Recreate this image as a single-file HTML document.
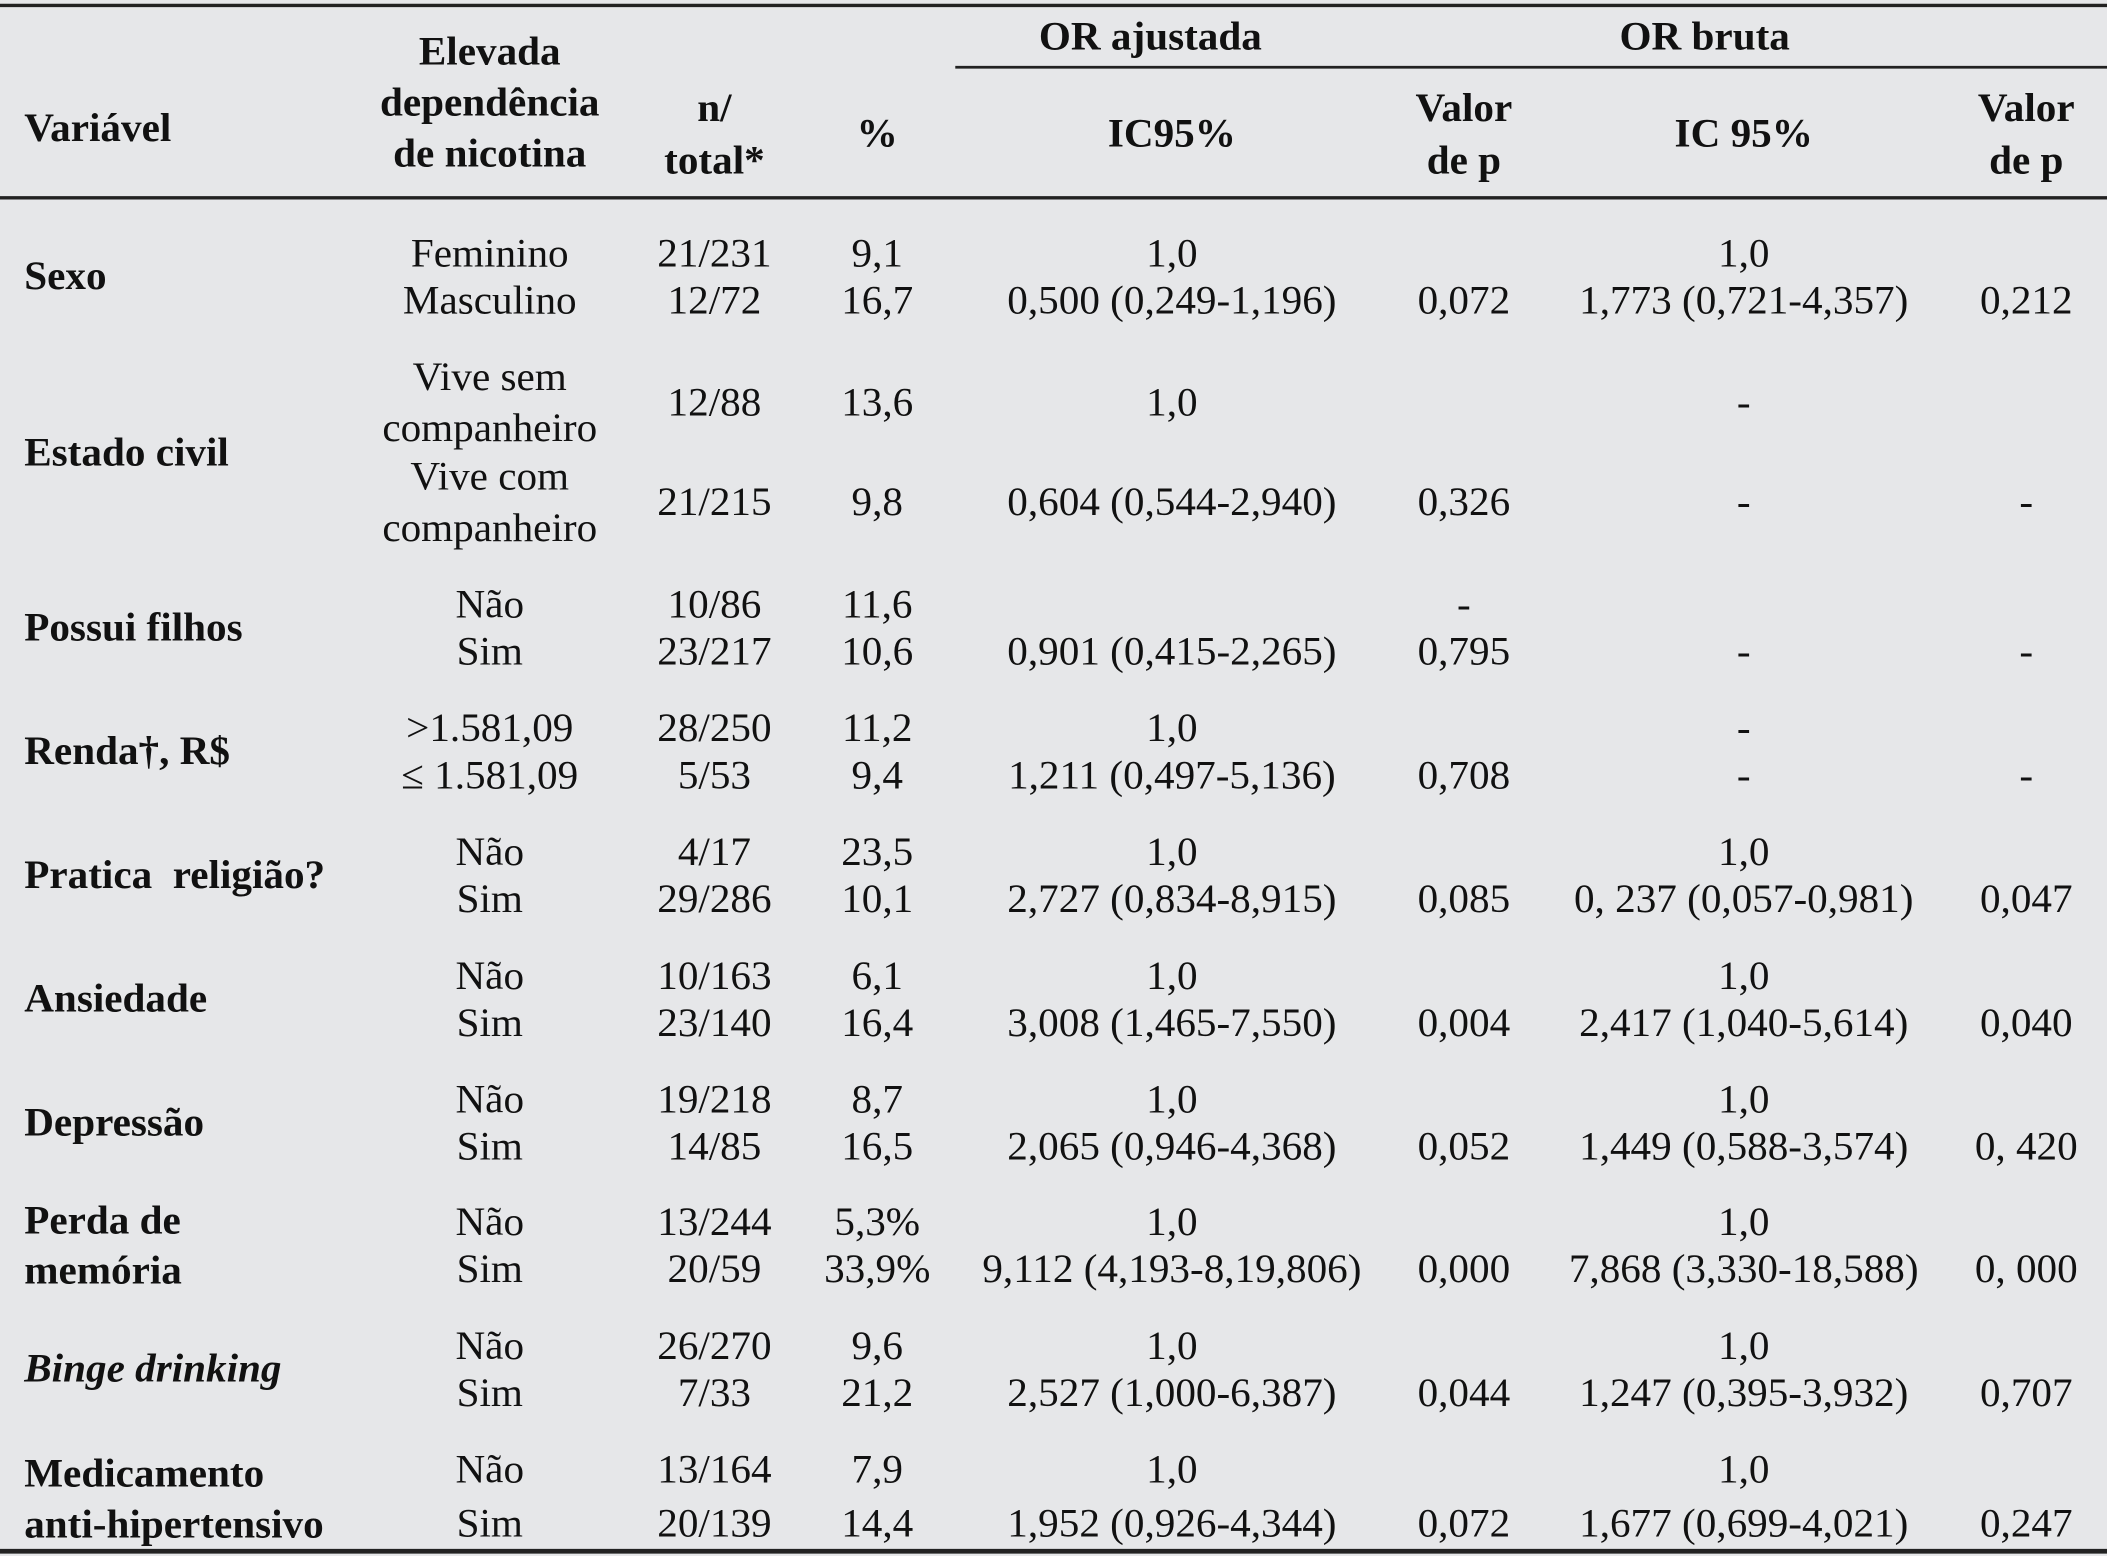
<!DOCTYPE html>
<html><head><meta charset="utf-8">
<style>
html,body{margin:0;padding:0;background:#e6e7e9;}
svg{display:block}
text{font-family:"Liberation Serif",serif;font-size:30px;fill:#111;white-space:pre;transform-box:fill-box;transform-origin:center;transform:scaleX(1.02);dominant-baseline:central}
text.l{transform-origin:left center}
text.b{font-weight:bold}
</style></head><body>
<svg id="t" width="2107" height="1556" viewBox="0 0 1566 1156.5" preserveAspectRatio="none">
<rect width="1566" height="1157" fill="#e6e7e9"/>
<line x1="0" y1="4" x2="1566" y2="4" stroke="#222" stroke-width="2.5"/>
<line x1="710" y1="50" x2="1566" y2="50" stroke="#222" stroke-width="2"/>
<line x1="0" y1="147" x2="1566" y2="147" stroke="#222" stroke-width="2.5"/>
<line x1="0" y1="1153" x2="1566" y2="1153" stroke="#222" stroke-width="3.5"/>
<g id="g"></g>
</svg>
<script>
const cx=[364,531,652,871,1088,1296,1506];
const header=[
 [18,95,"Variável",1],[364,38,"Elevada"],[364,76,"dependência"],[364,114,"de nicotina"],
 [531,80,"n/"],[531,119,"total*"],[652,99,"%"],[855,27,"OR ajustada"],[1267,27,"OR bruta"],
 [871,99,"IC95%"],[1088,80,"Valor"],[1088,119,"de p"],[1296,99,"IC 95%"],[1506,80,"Valor"],[1506,119,"de p"]];
const labels=[["Sexo",205],["Estado civil",336],["Possui filhos",466],["Renda†, R$",558],["Pratica  religião?",650],["Ansiedade",742],["Depressão",834],["Perda de",907],["memória",944],["Binge drinking",1017,"i"],["Medicamento",1095],["anti-hipertensivo",1133]];
const cells=[
 [0,188,"Feminino"],[1,188,"21/231"],[2,188,"9,1"],[3,188,"1,0"],[5,188,"1,0"],
 [0,223,"Masculino"],[1,223,"12/72"],[2,223,"16,7"],[3,223,"0,500 (0,249-1,196)"],[4,223,"0,072"],[5,223,"1,773 (0,721-4,357)"],[6,223,"0,212"],
 [0,280,"Vive sem"],[0,318,"companheiro"],[1,299,"12/88"],[2,299,"13,6"],[3,299,"1,0"],[5,299,"-"],
 [0,354,"Vive com"],[0,392,"companheiro"],[1,373,"21/215"],[2,373,"9,8"],[3,373,"0,604 (0,544-2,940)"],[4,373,"0,326"],[5,373,"-"],[6,373,"-"],
 [0,449,"Não"],[1,449,"10/86"],[2,449,"11,6"],[4,449,"-"],
 [0,484,"Sim"],[1,484,"23/217"],[2,484,"10,6"],[3,484,"0,901 (0,415-2,265)"],[4,484,"0,795"],[5,484,"-"],[6,484,"-"],
 [0,541,">1.581,09"],[1,541,"28/250"],[2,541,"11,2"],[3,541,"1,0"],[5,541,"-"],
 [0,576,"≤ 1.581,09"],[1,576,"5/53"],[2,576,"9,4"],[3,576,"1,211 (0,497-5,136)"],[4,576,"0,708"],[5,576,"-"],[6,576,"-"],
 [0,633,"Não"],[1,633,"4/17"],[2,633,"23,5"],[3,633,"1,0"],[5,633,"1,0"],
 [0,668,"Sim"],[1,668,"29/286"],[2,668,"10,1"],[3,668,"2,727 (0,834-8,915)"],[4,668,"0,085"],[5,668,"0, 237 (0,057-0,981)"],[6,668,"0,047"],
 [0,725,"Não"],[1,725,"10/163"],[2,725,"6,1"],[3,725,"1,0"],[5,725,"1,0"],
 [0,760,"Sim"],[1,760,"23/140"],[2,760,"16,4"],[3,760,"3,008 (1,465-7,550)"],[4,760,"0,004"],[5,760,"2,417 (1,040-5,614)"],[6,760,"0,040"],
 [0,817,"Não"],[1,817,"19/218"],[2,817,"8,7"],[3,817,"1,0"],[5,817,"1,0"],
 [0,852,"Sim"],[1,852,"14/85"],[2,852,"16,5"],[3,852,"2,065 (0,946-4,368)"],[4,852,"0,052"],[5,852,"1,449 (0,588-3,574)"],[6,852,"0, 420"],
 [0,908,"Não"],[1,908,"13/244"],[2,908,"5,3%"],[3,908,"1,0"],[5,908,"1,0"],
 [0,943,"Sim"],[1,943,"20/59"],[2,943,"33,9%"],[3,943,"9,112 (4,193-8,19,806)"],[4,943,"0,000"],[5,943,"7,868 (3,330-18,588)"],[6,943,"0, 000"],
 [0,1000,"Não"],[1,1000,"26/270"],[2,1000,"9,6"],[3,1000,"1,0"],[5,1000,"1,0"],
 [0,1035,"Sim"],[1,1035,"7/33"],[2,1035,"21,2"],[3,1035,"2,527 (1,000-6,387)"],[4,1035,"0,044"],[5,1035,"1,247 (0,395-3,932)"],[6,1035,"0,707"],
 [0,1092,"Não"],[1,1092,"13/164"],[2,1092,"7,9"],[3,1092,"1,0"],[5,1092,"1,0"],
 [0,1132,"Sim"],[1,1132,"20/139"],[2,1132,"14,4"],[3,1132,"1,952 (0,926-4,344)"],[4,1132,"0,072"],[5,1132,"1,677 (0,699-4,021)"],[6,1132,"0,247"]];
const g=document.getElementById('g');
const NS="http://www.w3.org/2000/svg";
function mk(x,y,s,cls,anchor){const t=document.createElementNS(NS,'text');t.setAttribute('x',x);t.setAttribute('y',y);t.setAttribute('text-anchor',anchor);if(cls)t.setAttribute('class',cls);t.textContent=s;g.appendChild(t);return t;}
header.forEach(h=>{const t=mk(h[0],h[1],h[2],h[3]?'b l':'b',h[3]?'start':'middle');

});
labels.forEach(l=>{const t=mk(18,l[1],l[0],'b l','start');if(l[2]){t.style.fontStyle='italic';}

});
cells.forEach(c=>{const t=mk(cx[c[0]],c[1],c[2],'','middle');

});
</script>
</body></html>
